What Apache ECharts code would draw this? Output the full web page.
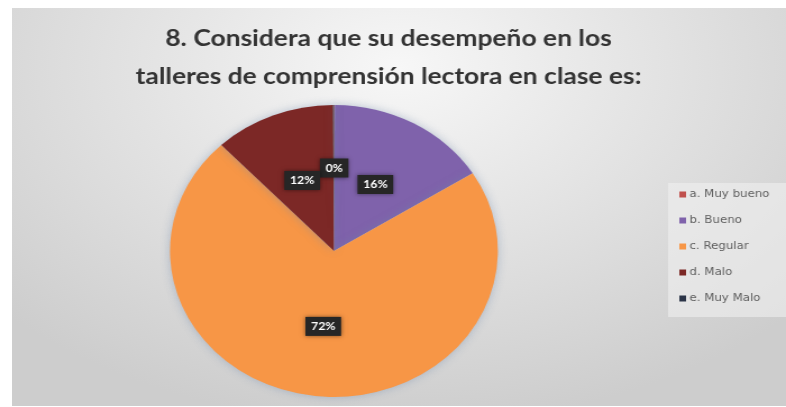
<!DOCTYPE html>
<html>
<head>
<meta charset="utf-8">
<script src="https://cdn.jsdelivr.net/npm/echarts@6/dist/echarts.min.js"></script>
<style>
  html, body { margin: 0; padding: 0; background: #ffffff; width: 786px; height: 407px; overflow: hidden; }
  #bg { position: absolute; left: 12px; top: 8px; width: 774px; height: 398px;
        background: radial-gradient(ellipse 70% 90% at 50% 15%, #f7f7f7 0%, #e4e4e4 45%, #cdcdcd 100%); }
  #chart { position: absolute; left: 0; top: 0; width: 700px; height: 407px;
           transform: scaleX(1.122857); transform-origin: 0 0; }
</style>
</head>
<body>
<div id="bg"></div>
<div id="chart"></div>
<script>
var titleLines = ['8. Considera que su desempeño en los', 'talleres de comprensión lectora en clase es:'];
var categories = ['a. Muy bueno', 'b. Bueno', 'c. Regular', 'd. Malo', 'e. Muy Malo'];
var values = [0, 16, 72, 12, 0];
var colors = ['#c0504d', '#7f62ab', '#f79646', '#7c2826', '#2b3447'];

var chart = echarts.init(document.getElementById('chart'), null, { renderer: 'canvas' });
var data = categories.map(function (c, i) {
  var item = { name: c, value: values[i], itemStyle: { color: colors[i] } };
  if (values[i] === 0) { item.label = { offset: [0, -7] }; }
  return item;
});
chart.setOption({
  backgroundColor: 'transparent',
  animation: false,
  title: {
    text: titleLines.join('\n'),
    left: 341, top: 14, textAlign: 'center',
    textStyle: { fontFamily: 'Lato', fontWeight: 'bold', fontSize: 23.5, lineHeight: 38, color: '#333333' }
  },
  legend: {
    orient: 'vertical',
    left: 595, top: 183,
    padding: [6, 30, 13, 10],
    backgroundColor: 'rgba(240,240,240,0.6)',
    itemWidth: 6, itemHeight: 6, itemGap: 15,
    icon: 'rect',
    data: categories,
    textStyle: { fontFamily: 'DejaVu Sans', fontSize: 10.5, color: '#606060', padding: [0, 0, 0, -2] }
  },
  series: [{
    type: 'pie',
    center: [297.4, 251],
    radius: 146,
    startAngle: 90,
    clockwise: true,
    minAngle: 0.3,
    avoidLabelOverlap: false,
    data: data,
    itemStyle: { shadowBlur: 8, shadowColor: 'rgba(110,135,170,0.45)' },
    label: {
      show: true,
      position: 'inside',
      formatter: '{c}%',
      fontFamily: 'Lato', fontWeight: 'bold', fontSize: 11, color: '#ffffff',
      backgroundColor: '#262626',
      padding: [4, 5],
      shadowBlur: 4, shadowColor: 'rgba(0,0,0,0.5)'
    },
    labelLine: { show: false },
    emphasis: { disabled: true }
  }]
});
</script>
</body>
</html>
